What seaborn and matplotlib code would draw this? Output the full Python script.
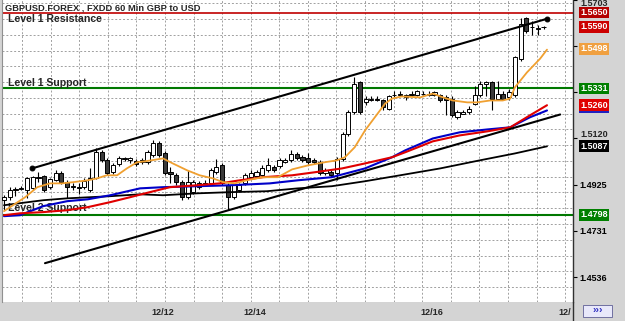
import numpy as np
import pandas as pd
import matplotlib
matplotlib.use("Agg")
import matplotlib.pyplot as plt
import matplotlib.transforms as mtransforms
from matplotlib.patches import Rectangle
import seaborn as sns

# ---------------- data ----------------
open_ = [1.4860,1.4873,1.4902,1.4906,1.4902,1.4910,1.4957,1.4961,1.4915,1.4944,
         1.4973,1.4936,1.4919,1.4915,1.4915,1.4902,1.4952,1.5062,1.5028,1.4978,
         1.5011,1.5032,1.5028,1.5024,1.5020,1.5020,1.5049,1.5099,1.5057,1.4978,
         1.4965,1.4936,1.4873,1.4894,1.4915,1.4931,1.4931,1.4978,1.5007,1.4923,
         1.4873,1.4902,1.4931,1.4957,1.4961,1.4965,1.4986,1.4999,1.5003,1.5020,
         1.5028,1.5053,1.5041,1.5036,1.5028,1.5020,1.4973,1.4978,1.4973,1.5032,
         1.5137,1.5230,1.5356,1.5272,1.5284,1.5288,1.5280,1.5246,1.5301,1.5305,
         1.5301,1.5301,1.5301,1.5309,1.5305,1.5301,1.5301,1.5293,1.5288,1.5209,
         1.5225,1.5230,1.5267,1.5301,1.5351,1.5356,1.5288,1.5309,1.5293,1.5301,
         1.5456,1.5629,1.5591,1.5582,1.5590]
close = [1.4873,1.4902,1.4906,1.4910,1.4952,1.4957,1.4955,1.4902,1.4948,1.4973,
         1.4936,1.4915,1.4915,1.4913,1.4940,1.4952,1.5062,1.5028,1.4973,1.5007,
         1.5036,1.5036,1.5036,1.5011,1.5028,1.5062,1.5099,1.5049,1.4973,1.4969,
         1.4936,1.4873,1.4936,1.4936,1.4931,1.4929,1.4986,1.4999,1.4931,1.4873,
         1.4923,1.4923,1.4965,1.4973,1.4978,1.4994,1.5007,1.4986,1.5028,1.5028,
         1.5053,1.5036,1.5028,1.5020,1.5020,1.4973,1.4986,1.4965,1.5032,1.5137,
         1.5230,1.5351,1.5230,1.5288,1.5288,1.5284,1.5251,1.5297,1.5305,1.5309,
         1.5293,1.5309,1.5318,1.5307,1.5309,1.5314,1.5280,1.5280,1.5217,1.5230,
         1.5230,1.5246,1.5301,1.5351,1.5356,1.5288,1.5309,1.5288,1.5314,1.5461,
         1.5603,1.5574,1.5589,1.5584,1.5590]
high = [1.4881,1.4915,1.4915,1.4919,1.4957,1.4961,1.4978,1.4965,1.4952,1.4986,
        1.4982,1.4944,1.4931,1.4931,1.4952,1.4994,1.5078,1.5070,1.5036,1.5015,
        1.5045,1.5041,1.5041,1.5032,1.5036,1.5070,1.5112,1.5108,1.5066,1.4999,
        1.4973,1.4944,1.4986,1.4944,1.4940,1.4944,1.4994,1.5032,1.5015,1.4931,
        1.4931,1.4931,1.4973,1.4986,1.4986,1.5007,1.5036,1.5007,1.5036,1.5036,
        1.5070,1.5062,1.5049,1.5057,1.5036,1.5028,1.4994,1.4986,1.5041,1.5146,
        1.5238,1.5377,1.5364,1.5297,1.5297,1.5297,1.5288,1.5305,1.5322,1.5318,
        1.5309,1.5318,1.5326,1.5318,1.5318,1.5322,1.5309,1.5301,1.5297,1.5238,
        1.5238,1.5255,1.5343,1.5364,1.5364,1.5364,1.5364,1.5322,1.5330,1.5469,
        1.5629,1.5633,1.5616,1.5599,1.5595]
low = [1.4818,1.4860,1.4877,1.4902,1.4868,1.4902,1.4936,1.4894,1.4906,1.4940,
       1.4927,1.4868,1.4902,1.4885,1.4906,1.4894,1.4948,1.5020,1.4965,1.4969,
       1.5003,1.5024,1.5015,1.5003,1.5011,1.5011,1.5041,1.5041,1.4965,1.4931,
       1.4923,1.4860,1.4864,1.4885,1.4906,1.4919,1.4923,1.4969,1.4923,1.4818,
       1.4864,1.4894,1.4923,1.4948,1.4952,1.4957,1.4978,1.4978,1.4994,1.5015,
       1.5020,1.5028,1.5020,1.5011,1.5011,1.4965,1.4965,1.4957,1.4944,1.5024,
       1.5129,1.5221,1.5221,1.5263,1.5276,1.5276,1.5242,1.5238,1.5293,1.5297,
       1.5280,1.5297,1.5297,1.5301,1.5297,1.5297,1.5272,1.5217,1.5209,1.5204,
       1.5221,1.5225,1.5259,1.5293,1.5297,1.5238,1.5280,1.5280,1.5280,1.5293,
       1.5448,1.5566,1.5557,1.5557,1.5582]

orange_x = [0, 3.7, 5.8, 8.0, 10.1, 12.0, 14.6, 16.2, 17.9, 19.7, 21.4, 23.2, 24.6, 27.7, 29.4,
            31.9, 34.1, 36.4, 38.2, 40.2, 42.3, 45.1, 47.7, 50.2, 53.0, 55.9, 58.0, 59.4, 61.1,
            62.9, 64.6, 66.4, 67.6, 69.3, 72.5, 74.7, 76.5, 78.2, 80.7, 82.4, 84.7, 86.9, 88.2,
            89.0, 91.1, 93.4, 94.6]
orange_y = [1.4814, 1.4873, 1.4915, 1.4931, 1.4931, 1.4936, 1.4944, 1.4952, 1.4965, 1.4965,
            1.4994, 1.5020, 1.5024, 1.5036, 1.5015, 1.4986, 1.4965, 1.4952, 1.4936, 1.4931,
            1.4944, 1.4957, 1.4957, 1.4990, 1.5007, 1.5020, 1.5028, 1.5041, 1.5083, 1.5154,
            1.5209, 1.5267, 1.5288, 1.5297, 1.5293, 1.5309, 1.5293, 1.5280, 1.5272, 1.5272,
            1.5280, 1.5280, 1.5288, 1.5335, 1.5398, 1.5456, 1.5494]
red_x = [0, 2.8, 6.8, 11.0, 14.6, 18.5, 22.0, 25.4, 28.9, 33.6, 37.6, 41.1, 45.1, 50.2,
         54.2, 58.9, 62.9, 67.6, 69.9, 74.7, 79.4, 84.2, 88.2, 91.6, 94.6]
red_y = [1.4797, 1.4805, 1.4810, 1.4818, 1.4831, 1.4852, 1.4873, 1.4894, 1.4915, 1.4923,
         1.4931, 1.4944, 1.4957, 1.4965, 1.4978, 1.4994, 1.5015, 1.5041, 1.5062, 1.5108,
         1.5133, 1.5150, 1.5167, 1.5217, 1.5260]
blue_x = [0, 2.8, 6.8, 11.0, 14.6, 18.5, 23.7, 27.7, 33.6, 39.4, 46.3, 51.2, 57.1, 62.9,
          67.6, 69.9, 74.7, 79.4, 84.2, 88.2, 91.6, 94.6]
blue_y = [1.4793, 1.4797, 1.4835, 1.4856, 1.4864, 1.4881, 1.4910, 1.4915, 1.4919, 1.4923,
          1.4931, 1.4944, 1.4957, 1.4994, 1.5041, 1.5070, 1.5120, 1.5146, 1.5158, 1.5167,
          1.5209, 1.5238]
black_x = [0, 6.8, 11.0, 18.5, 23.7, 27.7, 33.6, 39.4, 45.8, 51.2, 57.1, 62.9, 69.0, 76.0,
           82.9, 89.0, 94.6]
black_y = [1.4839, 1.4860, 1.4868, 1.4877, 1.4885, 1.4881, 1.4889, 1.4894, 1.4898, 1.4910,
           1.4919, 1.4940, 1.4965, 1.4994, 1.5028, 1.5057, 1.5087]

upper_x = [4.88, 94.6]
upper_y = [1.4994, 1.5624]
lower_x = [7.14, 96.9]
lower_y = [1.4595, 1.5221]

resistance1 = 1.5650
support1 = 1.5331
support2 = 1.4798

ytick_vals = [1.4536, 1.4731, 1.4925, 1.5120, 1.5314, 1.5509, 1.5703]
ytick_shown = [1.4536, 1.4731, 1.4925]
crowded_label = "1.5120"
top_label = "1.5703"
date_pos = [27.7, 43.7, 74.6, 97.7]
date_labels = ["12/12", "12/14", "12/16", "12/"]

box_vals = [1.5650, 1.5590, 1.5498, 1.5331, 1.5260, 1.5087, 1.4798]
box_cols = ["#b40000", "#cc0000", "#f0a040", "#008000", "#e00000", "#000000", "#008000"]

title = "GBPUSD.FOREX , FXDD 60 Min GBP to USD"

# ---------------- figure ----------------
sns.set_style("white")
plt.rcParams['font.family'] = ['Liberation Sans', 'DejaVu Sans']
PANEL = "#d4d4d4"
W, H = 625, 321

fig = plt.figure(figsize=(6.25, 3.21), dpi=100, facecolor=PANEL)
ax = fig.add_axes([2 / W, 19 / H, 571 / W, 302 / H])
ax.set_facecolor("white")
ax.set_xlim(-0.35, 99.13)
ax.set_ylim(1.44316, 1.5700)

# grid (dashed)
for k in range(20):
    ax.axvline(3.14 + 4.98 * k, color="#a0a0a0", lw=0.7, ls=(0, (2, 2)), zorder=0.5)
for k in range(20):
    ax.axhline(1.44946 + 0.006636 * k, color="#a0a0a0", lw=0.7, ls=(0, (2, 2)), zorder=0.5)

# level lines
ax.axhline(resistance1, color="#c00000", lw=1.2, zorder=1)
ax.axhline(support1, color="#007800", lw=1.5, zorder=1)
ax.axhline(support2, color="#007800", lw=1.5, zorder=1)


def px(x, y):
    return x / W, 1 - y / H


ax.text(*px(8, 19), "Level 1 Resistance", transform=fig.transFigure, fontsize=7.6,
        fontweight="bold", va="center", ha="left", zorder=1.5)
ax.text(*px(8, 83), "Level 1 Support", transform=fig.transFigure, fontsize=7.6,
        fontweight="bold", va="center", ha="left", zorder=1.5)
ax.text(*px(8, 208), "Level 2 Support", transform=fig.transFigure, fontsize=7.6,
        fontweight="bold", va="center", ha="left", zorder=1.5)

# candles
df = pd.DataFrame(dict(i=np.arange(len(close)), o=open_, c=close, h=high, l=low))
up = df.c >= df.o
ax.vlines(df.i, df.l, df.h, color="black", lw=0.8, zorder=3)
bottoms = np.minimum(df.o, df.c)
heights = np.maximum(np.abs(df.c - df.o), 0.00012)
ax.bar(df.i, heights, bottom=bottoms, width=0.72,
       color=np.where(up, "white", "#3a3a3a"), edgecolor="black", linewidth=0.7, zorder=4)

# moving averages
sns.lineplot(x=black_x, y=black_y, ax=ax, color="black", lw=1.3, zorder=5)
sns.lineplot(x=blue_x, y=blue_y, ax=ax, color="#0000c8", lw=1.5, zorder=5)
sns.lineplot(x=red_x, y=red_y, ax=ax, color="#e00000", lw=1.5, zorder=5)
sns.lineplot(x=orange_x, y=orange_y, ax=ax, color="#f0a030", lw=1.3, zorder=6)

# channel
sns.lineplot(x=upper_x, y=upper_y, ax=ax, color="black", lw=1.5, zorder=6,
             marker="o", markersize=3.5, markeredgecolor="black")
sns.lineplot(x=lower_x, y=lower_y, ax=ax, color="black", lw=1.5, zorder=6)

# axes styling
for s in ["top", "bottom"]:
    ax.spines[s].set_visible(False)
ax.spines["left"].set_color("#909090")
ax.spines["left"].set_linewidth(0.8)
ax.spines["right"].set_color("#303030")
ax.spines["right"].set_linewidth(1.0)
ax.yaxis.tick_right()
ax.set_yticks(ytick_vals)
ax.set_yticklabels([f"{v:.4f}" if v in ytick_shown else "" for v in ytick_vals],
                   fontsize=6.5, fontweight="bold")
ax.tick_params(axis="y", length=3, width=0.8, pad=1.5, colors="black")
ax.set_xticks(date_pos)
ax.set_xticklabels(date_labels, fontsize=6.5, fontweight="bold")
ax.tick_params(axis="x", length=0, pad=4)
ax.set_xlabel("")
ax.set_ylabel("")
ax.grid(False)

# partially hidden price labels (sit just above the value boxes)
fig.text(*px(580, 3.5), top_label, fontsize=6.5, fontweight="bold", va="center", ha="left")
fig.text(*px(580, 135), crowded_label, fontsize=6.5, fontweight="bold", va="center", ha="left")

# right value boxes
trans = mtransforms.blended_transform_factory(ax.transAxes, ax.transData)
xb = 1 + (580 - 573) / 571
for v, col in zip(box_vals, box_cols):
    if v == 1.5260:
        ax.text(xb, v - 0.0006, f"{v:.4f}", transform=trans, fontsize=6.5, fontweight="bold",
                color="#2020c0", va="center", ha="left", clip_on=False, zorder=7,
                bbox=dict(boxstyle="square,pad=0.15", fc="#2020c0", ec="none"))
    ax.text(xb, v, f"{v:.4f}", transform=trans, fontsize=6.5, fontweight="bold",
            color="white", va="center", ha="left", clip_on=False, zorder=8,
            bbox=dict(boxstyle="square,pad=0.15", fc=col, ec="none"))

# title
ax.text(*px(5, 8), title, transform=fig.transFigure, fontsize=6.7, fontweight="bold",
        va="center", ha="left", zorder=9)

# separator line through bottom strip
fig.add_artist(plt.Line2D([573 / W, 573 / W], [0, 19 / H], color="#303030", lw=1.0))

# scroll button
bx0, by0 = px(583, 317)
fig.add_artist(Rectangle((bx0, by0), 29 / W, 12 / H, transform=fig.transFigure,
                         fc="#e8e8fa", ec="#7070a0", lw=0.7))
fig.text(*px(597.5, 310.5), "\u203a\u203a\u203a", fontsize=7.5, fontweight="bold",
         color="#3030c0", ha="center", va="center")

fig.savefig("out.png", dpi=100, facecolor=PANEL)
